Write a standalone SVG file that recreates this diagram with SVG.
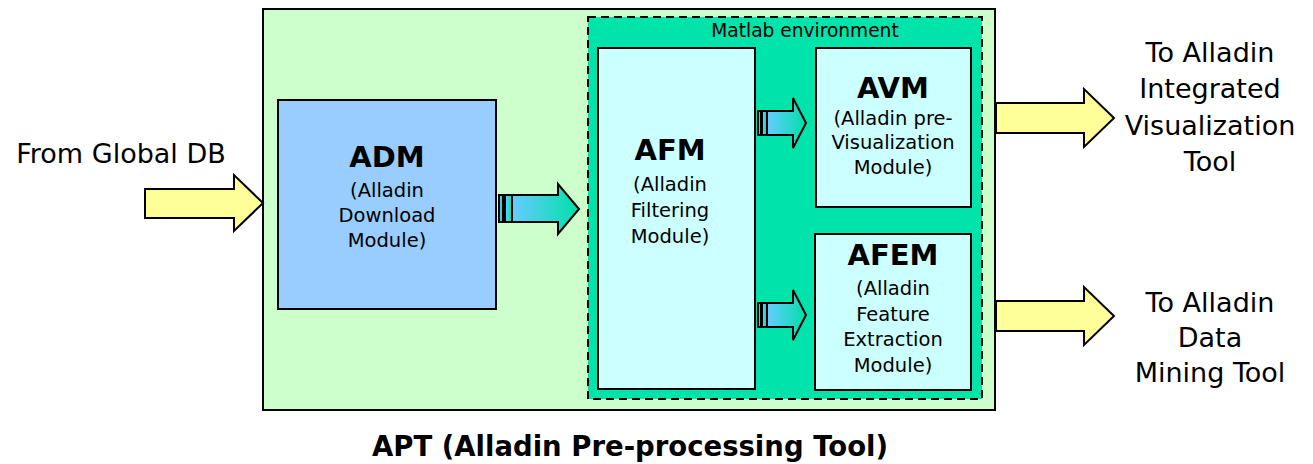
<svg xmlns="http://www.w3.org/2000/svg" width="1313" height="464" viewBox="0 0 1313 464">
<defs>
<linearGradient id="g" x1="0" y1="0" x2="1" y2="0">
<stop offset="0" stop-color="#66ccff"/>
<stop offset="1" stop-color="#00e0a8"/>
</linearGradient>
<style>
text{font-family:"DejaVu Sans",Verdana,sans-serif;fill:#000;text-anchor:middle}
.lbl{font-size:27px}
.b{font-weight:bold;font-size:29px}
.s{font-size:19.5px}
.y{fill:#ffff99;stroke:#000;stroke-width:2;stroke-linejoin:miter}
.ga{fill:url(#g);stroke:#000;stroke-width:2}
.box{stroke:#000;stroke-width:2}
</style>
</defs>
<rect x="0" y="0" width="1313" height="464" fill="#fff"/>
<g id="apt">
<rect x="263" y="9" width="732" height="401" fill="#ccffcc" class="box"/>
<text x="630" y="456" class="b" style="font-size:27.5px">APT (Alladin Pre-processing Tool)</text>
</g>
<g id="matlab">
<rect x="588" y="17" width="394" height="382" fill="#00e3aa" stroke="#000" stroke-width="2" stroke-dasharray="8,5"/>
<text x="805" y="37" class="s" style="font-size:18.6px">Matlab environment</text>
</g>
<g id="adm">
<rect x="278" y="100" width="218" height="209" fill="#99ccff" class="box"/>
<text x="387" y="167" class="b">ADM</text>
<text x="387" y="197" class="s">(Alladin</text>
<text x="387" y="222" class="s">Download</text>
<text x="387" y="247" class="s">Module)</text>
</g>
<g id="afm">
<rect x="598" y="48" width="157" height="341" fill="#ccffff" class="box"/>
<text x="670" y="160" class="b">AFM</text>
<text x="670" y="191" class="s">(Alladin</text>
<text x="670" y="217" class="s">Filtering</text>
<text x="670" y="243" class="s">Module)</text>
</g>
<g id="avm">
<rect x="816" y="48" width="155" height="159" fill="#ccffff" class="box"/>
<text x="893" y="98" class="b">AVM</text>
<text x="893" y="125" class="s">(Alladin pre-</text>
<text x="893" y="149" class="s">Visualization</text>
<text x="893" y="174" class="s">Module)</text>
</g>
<g id="afem">
<rect x="815" y="234" width="156" height="156" fill="#ccffff" class="box"/>
<text x="893" y="265" class="b">AFEM</text>
<text x="893" y="295" class="s">(Alladin</text>
<text x="893" y="321" class="s">Feature</text>
<text x="893" y="346" class="s">Extraction</text>
<text x="893" y="372" class="s">Module)</text>
</g>
<g id="labels">
<text x="121" y="163" class="lbl">From Global DB</text>
<text x="1210" y="62" class="lbl">To Alladin</text>
<text x="1210" y="98" class="lbl">Integrated</text>
<text x="1210" y="135" class="lbl">Visualization</text>
<text x="1210" y="171" class="lbl">Tool</text>
<text x="1210" y="312" class="lbl">To Alladin</text>
<text x="1210" y="347" class="lbl">Data</text>
<text x="1210" y="382" class="lbl">Mining Tool</text>
</g>
<g id="connectors">
<path class="y" d="M145,189 H234 V175 L263,203 L234,231 V218 H145 Z"/>
<path class="y" d="M996,103 H1084 V89 L1114,118 L1084,147 V133 H996 Z"/>
<path class="y" d="M996,301 H1084 V287 L1114,316 L1084,345 V331 H996 Z"/>
<path class="ga" d="M512,195 H558 V184 L579,209 L558,234 V222 H512 Z"/>
<rect x="499" y="195" width="4" height="27" class="ga"/>
<rect x="505" y="195" width="7" height="27" class="ga"/>
<path class="ga" d="M767,111 H793 V98 L806,123 L793,148 V135 H767 Z"/>
<rect x="758" y="111" width="3" height="24" class="ga"/>
<rect x="762" y="111" width="5" height="24" class="ga"/>
<path class="ga" d="M767,303 H793 V290 L806,315 L793,340 V327 H767 Z"/>
<rect x="758" y="303" width="3" height="24" class="ga"/>
<rect x="762" y="303" width="5" height="24" class="ga"/>
</g>
</svg>
